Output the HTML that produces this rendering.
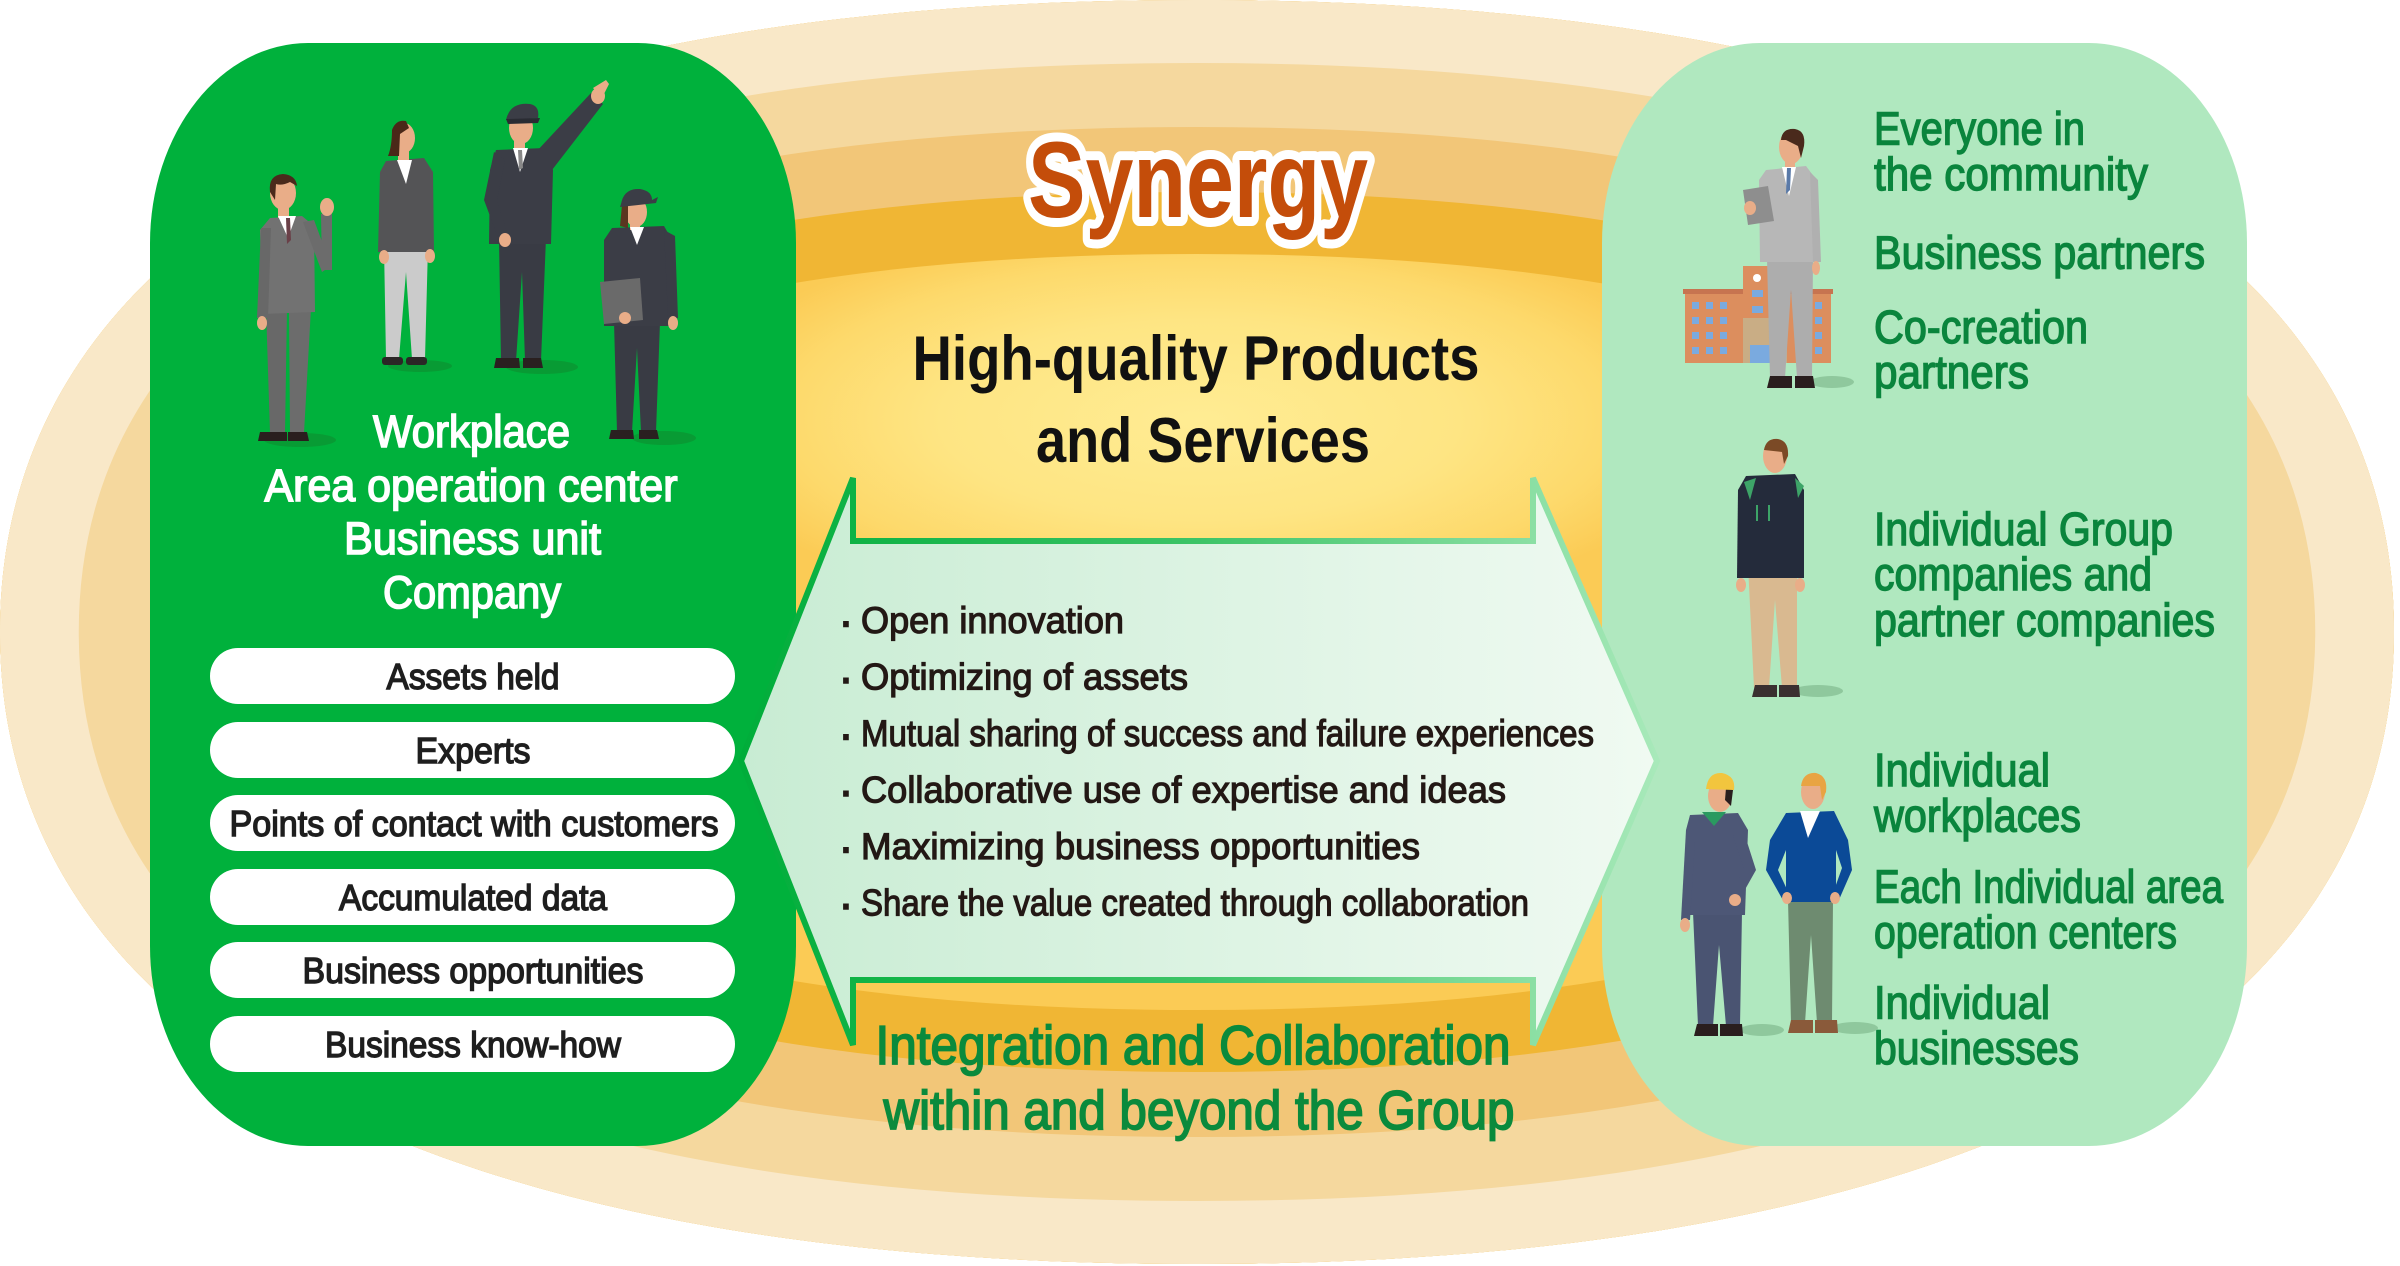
<!DOCTYPE html>
<html><head><meta charset="utf-8">
<style>
html,body{margin:0;padding:0;background:#fff;}
svg{display:block;}
text{font-family:"Liberation Sans",sans-serif;}
</style></head><body>
<svg width="2400" height="1266" viewBox="0 0 2400 1266" xmlns="http://www.w3.org/2000/svg">
<defs>
<clipPath id="oc"><path transform="scale(1.25 1)" d="M1915.2 632 C1915.2 1036.5 1570.5 1264 957.6 1264 C344.7 1264 0 1036.5 0 632 C0 227.5 344.7 0 957.6 0 C1570.5 0 1915.2 227.5 1915.2 632 Z"/></clipPath>
<radialGradient id="yg" gradientUnits="userSpaceOnUse" cx="1200" cy="420" r="200" gradientTransform="translate(1200 420) scale(2.6 1) translate(-1200 -420)">
 <stop offset="0" stop-color="#ffec93"/>
 <stop offset="0.5" stop-color="#fee583"/>
 <stop offset="0.8" stop-color="#fdd96b"/>
 <stop offset="1" stop-color="#fbcb55"/>
</radialGradient>
<linearGradient id="af" gradientUnits="userSpaceOnUse" x1="741" y1="0" x2="1657" y2="0">
 <stop offset="0" stop-color="#c8ecd3"/><stop offset="1" stop-color="#f0faf2"/>
</linearGradient>
<linearGradient id="as" gradientUnits="userSpaceOnUse" x1="741" y1="0" x2="1657" y2="0">
 <stop offset="0" stop-color="#00ad3a"/><stop offset="0.5" stop-color="#3dc467"/><stop offset="1" stop-color="#a8e9ba"/>
</linearGradient>
</defs>

<!-- concentric bands -->
<g clip-path="url(#oc)">
 <rect width="2400" height="1266" fill="url(#yg)"/>
 <g transform="scale(1.25 1)" fill="none" stroke-linejoin="round">
  <path d="M1915.2 632 C1915.2 1036.5 1570.5 1264 957.6 1264 C344.7 1264 0 1036.5 0 632 C0 227.5 344.7 0 957.6 0 C1570.5 0 1915.2 227.5 1915.2 632 Z" stroke="#f0b634" stroke-width="508"/>
  <path d="M1915.2 632 C1915.2 1036.5 1570.5 1264 957.6 1264 C344.7 1264 0 1036.5 0 632 C0 227.5 344.7 0 957.6 0 C1570.5 0 1915.2 227.5 1915.2 632 Z" stroke="#f2c678" stroke-width="384"/>
  <path d="M1915.2 632 C1915.2 1036.5 1570.5 1264 957.6 1264 C344.7 1264 0 1036.5 0 632 C0 227.5 344.7 0 957.6 0 C1570.5 0 1915.2 227.5 1915.2 632 Z" stroke="#f5d89e" stroke-width="254"/>
  <path d="M1915.2 632 C1915.2 1036.5 1570.5 1264 957.6 1264 C344.7 1264 0 1036.5 0 632 C0 227.5 344.7 0 957.6 0 C1570.5 0 1915.2 227.5 1915.2 632 Z" stroke="#f9e8c8" stroke-width="126"/>
 </g>
</g>

<!-- panels -->
<rect x="150" y="43" width="646" height="1103" rx="158" ry="200" fill="#00b13c"/>
<rect x="1602" y="43" width="645" height="1103" rx="158" ry="200" fill="#b0e8bf"/>

<!-- double arrow -->
<polygon points="741,761 853,478 853,541 1533,541 1533,478 1657,761 1533,1045 1533,980 853,980 853,1045" fill="url(#af)" stroke="url(#as)" stroke-width="6" stroke-linejoin="miter"/>

<!-- Synergy -->
<text x="1198" y="217" font-size="108" font-weight="bold" text-anchor="middle" textLength="340" lengthAdjust="spacingAndGlyphs" fill="#c44d0a" stroke="#ffffff" stroke-width="18" stroke-linejoin="round" paint-order="stroke">Synergy</text>

<!-- center heading -->
<g font-size="63" font-weight="bold" fill="#111" text-anchor="middle">
<text x="1196" y="380" textLength="567" lengthAdjust="spacingAndGlyphs">High-quality Products</text>
<text x="1203" y="462" textLength="334" lengthAdjust="spacingAndGlyphs">and Services</text>
</g>

<!-- bullets -->
<g font-size="37" fill="#231815" stroke="#231815" stroke-width="1.2">
<g font-size="44" text-anchor="middle" stroke-width="1.5">
<text x="846" y="636">·</text>
<text x="846" y="692.5">·</text>
<text x="846" y="749">·</text>
<text x="846" y="805.6">·</text>
<text x="846" y="862">·</text>
<text x="846" y="918.6">·</text>
</g>
<text x="861" y="633" textLength="263" lengthAdjust="spacingAndGlyphs">Open innovation</text>
<text x="861" y="689.5" textLength="327" lengthAdjust="spacingAndGlyphs">Optimizing of assets</text>
<text x="861" y="746" textLength="733" lengthAdjust="spacingAndGlyphs">Mutual sharing of success and failure experiences</text>
<text x="861" y="802.6" textLength="645" lengthAdjust="spacingAndGlyphs">Collaborative use of expertise and ideas</text>
<text x="861" y="859" textLength="559" lengthAdjust="spacingAndGlyphs">Maximizing business opportunities</text>
<text x="861" y="915.6" textLength="668" lengthAdjust="spacingAndGlyphs">Share the value created through collaboration</text>
</g>

<!-- integration text -->
<g font-size="55" fill="#0a8a3c" stroke="#0a8a3c" stroke-width="1.8" text-anchor="middle">
<text x="1193" y="1064" textLength="635" lengthAdjust="spacingAndGlyphs">Integration and Collaboration</text>
<text x="1199" y="1129" textLength="631" lengthAdjust="spacingAndGlyphs">within and beyond the Group</text>
</g>

<!-- left panel text -->
<g font-size="45" fill="#ffffff" stroke="#ffffff" stroke-width="1.6" text-anchor="middle">
<text x="471.5" y="447" textLength="197" lengthAdjust="spacingAndGlyphs">Workplace</text>
<text x="471" y="501" textLength="413" lengthAdjust="spacingAndGlyphs">Area operation center</text>
<text x="472.5" y="554" textLength="257" lengthAdjust="spacingAndGlyphs">Business unit</text>
<text x="472" y="608" textLength="178" lengthAdjust="spacingAndGlyphs">Company</text>
</g>

<!-- pills -->
<g fill="#ffffff">
<rect x="210" y="648" width="525" height="56" rx="28"/>
<rect x="210" y="722" width="525" height="56" rx="28"/>
<rect x="210" y="795" width="525" height="56" rx="28"/>
<rect x="210" y="869" width="525" height="56" rx="28"/>
<rect x="210" y="942" width="525" height="56" rx="28"/>
<rect x="210" y="1016" width="525" height="56" rx="28"/>
</g>
<g font-size="36" fill="#1e1e1e" stroke="#1e1e1e" stroke-width="1.4" text-anchor="middle">
<text x="473" y="689" textLength="173" lengthAdjust="spacingAndGlyphs">Assets held</text>
<text x="473" y="763" textLength="115" lengthAdjust="spacingAndGlyphs">Experts</text>
<text x="474" y="836" textLength="489" lengthAdjust="spacingAndGlyphs">Points of contact with customers</text>
<text x="473" y="910" textLength="268" lengthAdjust="spacingAndGlyphs">Accumulated data</text>
<text x="473" y="983" textLength="341" lengthAdjust="spacingAndGlyphs">Business opportunities</text>
<text x="473" y="1057" textLength="296" lengthAdjust="spacingAndGlyphs">Business know-how</text>
</g>

<!-- right panel text -->
<g font-size="46" fill="#0a853d" stroke="#0a853d" stroke-width="1.4">
<text x="1874" y="144.5" textLength="211" lengthAdjust="spacingAndGlyphs">Everyone in</text>
<text x="1874" y="190" textLength="274" lengthAdjust="spacingAndGlyphs">the community</text>
<text x="1874" y="268.5" textLength="331" lengthAdjust="spacingAndGlyphs">Business partners</text>
<text x="1874" y="343" textLength="214" lengthAdjust="spacingAndGlyphs">Co-creation</text>
<text x="1874" y="388" textLength="155" lengthAdjust="spacingAndGlyphs">partners</text>
<text x="1874" y="545" textLength="299" lengthAdjust="spacingAndGlyphs">Individual Group</text>
<text x="1874" y="590" textLength="278" lengthAdjust="spacingAndGlyphs">companies and</text>
<text x="1874" y="636" textLength="341" lengthAdjust="spacingAndGlyphs">partner companies</text>
<text x="1874" y="786" textLength="176" lengthAdjust="spacingAndGlyphs">Individual</text>
<text x="1874" y="831.6" textLength="207" lengthAdjust="spacingAndGlyphs">workplaces</text>
<text x="1874" y="902.7" textLength="349" lengthAdjust="spacingAndGlyphs">Each Individual area</text>
<text x="1874" y="948" textLength="303" lengthAdjust="spacingAndGlyphs">operation centers</text>
<text x="1874" y="1018.5" textLength="176" lengthAdjust="spacingAndGlyphs">Individual</text>
<text x="1874" y="1064" textLength="205" lengthAdjust="spacingAndGlyphs">businesses</text>
</g>

<!-- ===== Left people ===== -->
<!-- person 1: gray suit -->
<ellipse cx="300" cy="440" rx="36" ry="7" fill="#089b34"/>
<path d="M266 308 L287 308 L285 433 L270 433 Z" fill="#686868"/>
<path d="M289 308 L311 308 L304 433 L290 433 Z" fill="#6c6c6c"/>
<path d="M260 432 L287 432 L287 441 L258 441 Z" fill="#2a1e1e"/>
<path d="M288 432 L307 432 L309 441 L288 441 Z" fill="#2a1e1e"/>
<path d="M270 218 L302 216 L314 226 L315 312 L262 314 L260 230 Z" fill="#727272"/>
<path d="M261 228 L271 228 L268 318 L257 318 Z" fill="#686868"/>
<ellipse cx="262" cy="323" rx="5" ry="7" fill="#e9ad88"/>
<path d="M303 222 L314 220 L331 266 L322 272 Z" fill="#6c6c6c"/>
<path d="M321 214 L332 214 L332 270 L322 270 Z" fill="#6c6c6c"/>
<ellipse cx="327" cy="207" rx="7" ry="9" fill="#e9ad88"/>
<rect x="278" y="205" width="11" height="13" fill="#e9ad88"/>
<path d="M278 216 L296 216 L288 238 Z" fill="#fff"/>
<path d="M286 218 L290 218 L291 240 L287 244 Z" fill="#6a4048"/>
<ellipse cx="283" cy="193" rx="13" ry="17" fill="#e9ad88"/>
<path d="M270 192 Q268 175 283 174 Q296 175 297 186 L290 182 Q282 186 276 184 L275 200 Z" fill="#4a2a1c"/>

<!-- person 2: woman -->
<ellipse cx="420" cy="366" rx="32" ry="6" fill="#089b34"/>
<path d="M384 246 L428 246 L425 359 L412 359 L406 272 L399 359 L386 359 Z" fill="#cbcbcb"/>
<rect x="382" y="357" width="21" height="8" rx="3" fill="#2b2626"/>
<rect x="406" y="357" width="21" height="8" rx="3" fill="#2b2626"/>
<path d="M386 161 L424 158 L433 172 L434 252 L378 252 L380 172 Z" fill="#545456"/>
<ellipse cx="384" cy="257" rx="5" ry="7" fill="#e9ad88"/>
<ellipse cx="430" cy="256" rx="5" ry="7" fill="#e9ad88"/>
<rect x="398" y="150" width="11" height="12" fill="#e9ad88"/>
<path d="M397 160 L412 160 L406 184 Z" fill="#fff"/>
<ellipse cx="404" cy="138" rx="11" ry="15" fill="#e9ad88"/>
<path d="M392 130 Q396 119 406 121 L409 128 L400 134 L399 156 L388 156 Q392 146 392 130 Z" fill="#4a2818"/>

<!-- person 3: pilot pointing -->
<ellipse cx="542" cy="367" rx="36" ry="7" fill="#089b34"/>
<path d="M499 238 L546 238 L541 361 L525 361 L522 272 L516 361 L501 361 Z" fill="#393b44"/>
<path d="M496 358 L519 358 L520 368 L494 368 Z" fill="#2a2020"/>
<path d="M523 358 L541 358 L543 368 L523 368 Z" fill="#2a2020"/>
<path d="M496 150 L545 148 L553 170 L551 244 L489 244 L490 170 Z" fill="#3b3d46"/>
<path d="M494 152 L484 200 L499 240 L508 236 L497 200 L505 160 Z" fill="#3b3d46"/>
<ellipse cx="505" cy="240" rx="6" ry="7" fill="#e9ad88"/>
<path d="M536 152 L591 93 L603 104 L552 170 Z" fill="#3b3d46"/>
<path d="M593 88 L606 80 L609 84 L602 98 Z" fill="#e9ad88"/>
<ellipse cx="598" cy="96" rx="7" ry="8" fill="#e9ad88"/>
<rect x="514" y="136" width="11" height="14" fill="#e9ad88"/>
<path d="M513 148 L528 148 L520 172 Z" fill="#fff"/>
<path d="M518 150 L522 150 L523 168 L519 170 Z" fill="#888"/>
<ellipse cx="521" cy="128" rx="12" ry="16" fill="#e9ad88"/>
<path d="M506 120 Q510 102 530 104 Q540 106 538 118 Z" fill="#3b3d46"/>
<path d="M506 119 L540 118 L538 123 L508 124 Z" fill="#2a2c33"/>

<!-- person 4: female conductor -->
<ellipse cx="664" cy="438" rx="32" ry="7" fill="#089b34"/>
<path d="M614 322 L660 322 L656 432 L641 432 L637 348 L632 432 L617 432 Z" fill="#393b44"/>
<path d="M611 430 L633 430 L634 439 L609 439 Z" fill="#2a2020"/>
<path d="M639 430 L657 430 L659 439 L639 439 Z" fill="#2a2020"/>
<path d="M612 228 L664 226 L672 240 L672 326 L604 326 L604 240 Z" fill="#3b3d46"/>
<path d="M664 230 L675 236 L678 318 L668 318 Z" fill="#3b3d46"/>
<ellipse cx="673" cy="323" rx="5" ry="7" fill="#e9ad88"/>
<path d="M600 282 L640 278 L643 320 L604 324 Z" fill="#6a6a6a"/>
<ellipse cx="625" cy="318" rx="6" ry="6" fill="#e9ad88"/>
<rect x="630" y="220" width="10" height="10" fill="#e9ad88"/>
<path d="M630 227 L644 227 L637 245 Z" fill="#fff"/>
<ellipse cx="636" cy="212" rx="11" ry="15" fill="#e9ad88"/>
<path d="M622 205 L628 205 L628 228 L620 226 Z" fill="#5a3620"/>
<path d="M621 204 Q624 188 640 189 Q652 191 652 200 L658 197 L656 203 L620 207 Z" fill="#3b3d46"/>

<!-- ===== Right people ===== -->
<!-- building -->
<rect x="1685" y="292" width="146" height="71" fill="#dc8e5e"/>
<rect x="1683" y="289" width="150" height="5" fill="#c77450"/>
<rect x="1743" y="266" width="43" height="97" fill="#dc8e5e"/>
<rect x="1743" y="318" width="44" height="45" fill="#c9ad85"/>
<rect x="1750" y="345" width="20" height="18" fill="#7aaadf"/>
<circle cx="1757" cy="278" r="4" fill="#fff"/>
<rect x="1752" y="290" width="11" height="7" fill="#7aaadf"/>
<rect x="1752" y="306" width="11" height="7" fill="#7aaadf"/>
<g fill="#7aaadf">
<rect x="1692" y="302" width="7" height="7"/><rect x="1706" y="302" width="7" height="7"/><rect x="1720" y="302" width="7" height="7"/>
<rect x="1692" y="317" width="7" height="7"/><rect x="1706" y="317" width="7" height="7"/><rect x="1720" y="317" width="7" height="7"/>
<rect x="1692" y="332" width="7" height="7"/><rect x="1706" y="332" width="7" height="7"/><rect x="1720" y="332" width="7" height="7"/>
<rect x="1692" y="347" width="7" height="7"/><rect x="1706" y="347" width="7" height="7"/><rect x="1720" y="347" width="7" height="7"/>
<rect x="1815" y="302" width="7" height="7"/><rect x="1815" y="317" width="7" height="7"/><rect x="1815" y="332" width="7" height="7"/><rect x="1815" y="347" width="7" height="7"/>
</g>
<!-- person A: light gray suit -->
<ellipse cx="1832" cy="382" rx="22" ry="6" fill="#8fc89d"/>
<path d="M1767 258 L1813 258 L1812 378 L1797 378 L1791 290 L1785 378 L1770 378 Z" fill="#adadad"/>
<path d="M1770 376 L1792 376 L1792 388 L1767 388 Z" fill="#2a1e1e"/>
<path d="M1795 376 L1813 376 L1815 388 L1795 388 Z" fill="#2a1e1e"/>
<path d="M1766 170 L1806 166 L1815 178 L1815 262 L1760 262 L1759 180 Z" fill="#b7b7b7"/>
<path d="M1810 172 L1818 180 L1821 262 L1813 262 Z" fill="#b0b0b0"/>
<ellipse cx="1816" cy="268" rx="4" ry="7" fill="#e9ad88"/>
<path d="M1743 190 L1768 186 L1774 221 L1748 225 Z" fill="#8e8e8e"/>
<ellipse cx="1750" cy="208" rx="6" ry="7" fill="#e9ad88"/>
<rect x="1785" y="158" width="10" height="12" fill="#e9ad88"/>
<path d="M1782 167 L1796 167 L1789 196 Z" fill="#fff"/>
<path d="M1787 168 L1791 168 L1790 190 L1786 194 Z" fill="#5a7aa8"/>
<ellipse cx="1791" cy="147" rx="12" ry="17" fill="#e9ad88"/>
<path d="M1781 140 Q1782 128 1795 129 Q1806 131 1804 146 L1801 158 L1798 146 L1786 140 Z" fill="#4a2a1c"/>

<!-- person B: dark jacket -->
<ellipse cx="1818" cy="691" rx="25" ry="6" fill="#8fc89d"/>
<path d="M1748 565 L1797 565 L1797 688 L1782 688 L1775 600 L1769 688 L1754 688 Z" fill="#d9b990"/>
<path d="M1755 685 L1777 685 L1777 697 L1752 697 Z" fill="#3a3030"/>
<path d="M1779 685 L1799 685 L1800 697 L1779 697 Z" fill="#3a3030"/>
<path d="M1746 476 L1795 474 L1804 490 L1804 578 L1737 578 L1738 490 Z" fill="#242b3b"/>
<ellipse cx="1741" cy="585" rx="5" ry="7" fill="#e9ad88"/>
<ellipse cx="1800" cy="585" rx="5" ry="7" fill="#e9ad88"/>
<path d="M1744 482 L1756 478 L1750 500 Z" fill="#3da468"/>
<path d="M1795 478 L1804 486 L1798 498 Z" fill="#3da468"/>
<rect x="1756" y="505" width="2" height="16" fill="#3da468"/>
<rect x="1768" y="505" width="2" height="16" fill="#3da468"/>
<ellipse cx="1775" cy="456" rx="12" ry="17" fill="#e9ad88"/>
<path d="M1764 450 Q1766 438 1778 439 Q1789 441 1788 456 L1784 464 L1782 452 Z" fill="#7b4a26"/>

<!-- person C: worker -->
<ellipse cx="1762" cy="1030" rx="22" ry="6" fill="#8fc89d"/>
<path d="M1693 912 L1742 912 L1740 1026 L1726 1026 L1719 945 L1713 1026 L1698 1026 Z" fill="#4a5472"/>
<path d="M1697 1024 L1718 1024 L1718 1036 L1694 1036 Z" fill="#2a1e1e"/>
<path d="M1720 1024 L1742 1024 L1743 1036 L1720 1036 Z" fill="#2a1e1e"/>
<path d="M1690 815 L1738 813 L1748 830 L1745 915 L1688 915 L1686 830 Z" fill="#4d5776"/>
<path d="M1686 830 L1681 920 L1690 920 L1695 840 Z" fill="#4d5776"/>
<path d="M1740 820 L1756 870 L1738 902 L1732 895 L1744 868 L1733 835 Z" fill="#4d5776"/>
<ellipse cx="1685" cy="925" rx="5" ry="7" fill="#e9ad88"/>
<ellipse cx="1735" cy="900" rx="6" ry="6" fill="#e9ad88"/>
<path d="M1702 812 L1726 812 L1714 826 Z" fill="#2a9a60"/>
<ellipse cx="1720" cy="796" rx="12" ry="16" fill="#e9ad88"/>
<path d="M1726 788 L1733 790 L1731 806 L1725 800 Z" fill="#2a1e1e"/>
<path d="M1706 789 Q1708 772 1722 773 Q1736 776 1734 790 Z" fill="#f2c53e"/>

<!-- person D: blue sweater -->
<ellipse cx="1855" cy="1028" rx="23" ry="6" fill="#8fc89d"/>
<path d="M1788 900 L1833 900 L1832 1023 L1817 1023 L1811 935 L1805 1023 L1791 1023 Z" fill="#6e8b70"/>
<path d="M1791 1020 L1813 1020 L1813 1033 L1788 1033 Z" fill="#8a5a3a"/>
<path d="M1815 1020 L1837 1020 L1838 1033 L1815 1033 Z" fill="#8a5a3a"/>
<path d="M1786 813 L1834 811 L1848 840 L1852 870 L1838 902 L1832 896 L1842 868 L1836 850 L1836 902 L1786 902 L1786 850 L1778 870 L1790 896 L1784 902 L1766 870 L1770 840 Z" fill="#0b4a97"/>
<ellipse cx="1787" cy="898" rx="5" ry="6" fill="#e9ad88"/>
<ellipse cx="1835" cy="898" rx="5" ry="6" fill="#e9ad88"/>
<path d="M1800 811 L1820 811 L1808 838 Z" fill="#fff"/>
<ellipse cx="1813" cy="792" rx="12" ry="17" fill="#e9ad88"/>
<path d="M1801 786 Q1803 772 1816 773 Q1828 776 1826 792 L1822 800 L1820 786 Z" fill="#e8a443"/>
</svg>
</body></html>
